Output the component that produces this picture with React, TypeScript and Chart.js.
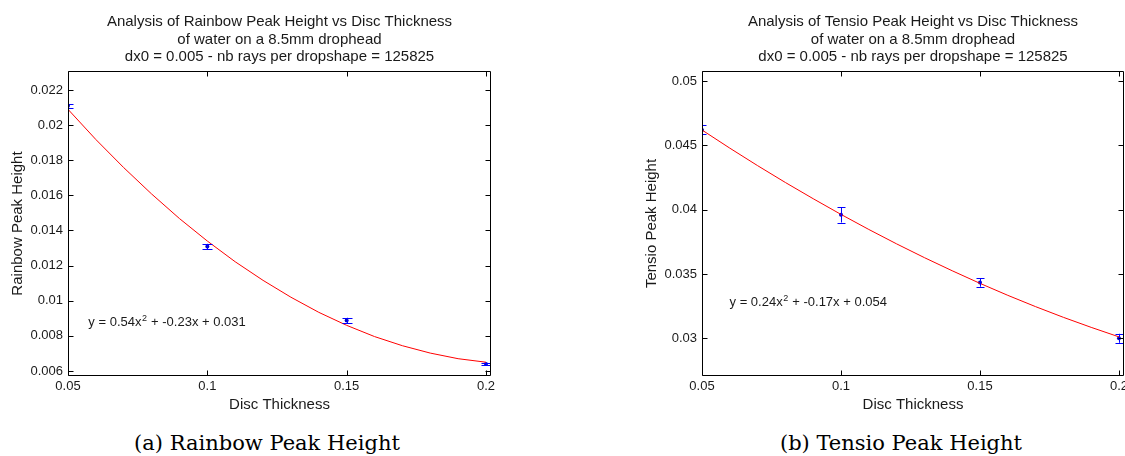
import React, { useEffect, useRef } from "react";
import { Chart, registerables } from "chart.js";

Chart.register(...registerables);

// ---------- data ----------
const discThickness = [0.05, 0.1, 0.15, 0.2];

const rainbowPeak = [0.0211, 0.01309, 0.00887, 0.0064];
const rainbowErr = [0.0001, 0.00015, 0.00016, 0.00006];

const tensioPeak = [0.0462, 0.0396, 0.03434, 0.03];
const tensioErr = [0.00035, 0.0006, 0.00033, 0.00035];

const fitThickness = [
  0.05, 0.06, 0.07, 0.08, 0.09, 0.1, 0.11, 0.12, 0.13, 0.14, 0.15, 0.16, 0.17,
  0.18, 0.19, 0.2,
];
const rainbowFit = [
  0.0209, 0.01918, 0.01758, 0.01608, 0.01468, 0.0134, 0.01222, 0.01116,
  0.0102, 0.00934, 0.0086, 0.00796, 0.00744, 0.00702, 0.0067, 0.0065,
];
const tensioFit = [
  0.04619, 0.04478, 0.04342, 0.04211, 0.04085, 0.03963, 0.03846, 0.03734,
  0.03627, 0.03525, 0.03427, 0.03334, 0.03246, 0.03163, 0.03085, 0.03011,
];

const xTickValues = [0.05, 0.1, 0.15, 0.2];
const rainbowYTicks = [0.006, 0.008, 0.01, 0.012, 0.014, 0.016, 0.018, 0.02, 0.022];
const tensioYTicks = [0.03, 0.035, 0.04, 0.045, 0.05];

const rainbowTitle = [
  "Analysis of Rainbow Peak Height vs Disc Thickness",
  "of water on a 8.5mm drophead",
  "dx0 = 0.005 - nb rays per dropshape = 125825",
];
const tensioTitle = [
  "Analysis of Tensio Peak Height vs Disc Thickness",
  "of water on a 8.5mm drophead",
  "dx0 = 0.005 - nb rays per dropshape = 125825",
];
const rainbowEquation = ["y = 0.54x", "2", " + -0.23x + 0.031"];
const tensioEquation = ["y = 0.24x", "2", " + -0.17x + 0.054"];

// ---------- styles ----------
const SANS = "'Liberation Sans', Arial, Helvetica, sans-serif";
const TEXT = "#1a1a1a";

const fmt = (v: number) => String(parseFloat(Number(v).toFixed(4)));

// ---------- plugins ----------
const boxPlugin = {
  id: "matlabBox",
  afterDraw(chart: any) {
    const { ctx, chartArea: a, scales } = chart;
    const L = Math.round(a.left) + 0.5;
    const R = Math.round(a.right) - 0.5;
    const T = Math.round(a.top) + 0.5;
    const B = Math.round(a.bottom) - 0.5;
    const tl = 5;
    ctx.save();
    ctx.strokeStyle = "#000";
    ctx.lineWidth = 1;
    ctx.beginPath();
    ctx.rect(L, T, R - L, B - T);
    scales.x.ticks.forEach((t: any) => {
      const px = Math.round(scales.x.getPixelForValue(t.value)) + 0.5;
      ctx.moveTo(px, B);
      ctx.lineTo(px, B - tl);
      ctx.moveTo(px, T);
      ctx.lineTo(px, T + tl);
    });
    scales.y.ticks.forEach((t: any) => {
      const py = Math.round(scales.y.getPixelForValue(t.value)) + 0.5;
      ctx.moveTo(L, py);
      ctx.lineTo(L + tl, py);
      ctx.moveTo(R, py);
      ctx.lineTo(R - tl, py);
    });
    ctx.stroke();
    ctx.restore();
  },
};

const errorBarPlugin = {
  id: "errorBars",
  afterDatasetsDraw(chart: any) {
    const { ctx, chartArea: a, scales } = chart;
    ctx.save();
    ctx.beginPath();
    ctx.rect(a.left, a.top, a.right - a.left, a.bottom - a.top);
    ctx.clip();
    chart.data.datasets.forEach((ds: any) => {
      if (!ds.errors) return;
      ctx.strokeStyle = "#0000ff";
      ctx.lineWidth = 1;
      ds.data.forEach((p: any, i: number) => {
        const e = ds.errors[i];
        const px = Math.round(scales.x.getPixelForValue(p.x)) + 0.5;
        const y1 = scales.y.getPixelForValue(p.y - e);
        const y2 = scales.y.getPixelForValue(p.y + e);
        const cap = ds.capHalf || 4;
        ctx.beginPath();
        ctx.moveTo(px, y1);
        ctx.lineTo(px, y2);
        ctx.moveTo(px - cap, Math.round(y1) + 0.5);
        ctx.lineTo(px + cap, Math.round(y1) + 0.5);
        ctx.moveTo(px - cap, Math.round(y2) + 0.5);
        ctx.lineTo(px + cap, Math.round(y2) + 0.5);
        ctx.stroke();
      });
    });
    ctx.restore();
  },
};

const textPlugin = {
  id: "matlabText",
  afterDraw(chart: any, _args: any, opts: any) {
    const { ctx, chartArea: a, scales } = chart;
    ctx.save();
    ctx.fillStyle = TEXT;
    ctx.font = `15px ${SANS}`;
    ctx.textAlign = "center";
    ctx.textBaseline = "alphabetic";
    const cx = (a.left + a.right) / 2;
    const baselines = [26, 43.5, 61];
    (opts.title || []).forEach((line: string, i: number) => {
      ctx.fillText(line, cx, baselines[i]);
    });
    if (opts.equation) {
      const [p1, sup, p2] = opts.equation;
      let x = scales.x.getPixelForValue(opts.eqX);
      const y = scales.y.getPixelForValue(opts.eqY) + 4.5;
      ctx.textAlign = "left";
      ctx.font = `13px ${SANS}`;
      ctx.fillText(p1, x, y);
      x += ctx.measureText(p1).width;
      ctx.font = `9px ${SANS}`;
      ctx.fillText(sup, x + 0.5, y - 5.5);
      x += ctx.measureText(sup).width + 1;
      ctx.font = `13px ${SANS}`;
      ctx.fillText(p2, x, y);
    }
    ctx.restore();
  },
};

// ---------- config builder ----------
function makeConfig(p: {
  values: number[];
  errors: number[];
  fit: number[];
  yMin: number;
  yMax: number;
  yTicks: number[];
  yTitle: string;
  title: string[];
  equation: string[];
  eqX: number;
  eqY: number;
  padLeft: number;
  padRight: number;
  capHalf: number;
}) {
  const tickFont = { family: SANS, size: 13 };
  const titleFont = { family: SANS, size: 15 };
  return {
    type: "scatter",
    data: {
      datasets: [
        {
          label: "fit",
          data: fitThickness.map((x, i) => ({ x, y: p.fit[i] })),
          showLine: true,
          borderColor: "#ff0000",
          borderWidth: 1,
          pointRadius: 0,
          fill: false,
          tension: 0,
        },
        {
          label: "data",
          data: discThickness.map((x, i) => ({ x, y: p.values[i] })),
          showLine: false,
          pointRadius: 2,
          pointBackgroundColor: "#0000cc",
          pointBorderWidth: 0,
          errors: p.errors,
          capHalf: p.capHalf,
        },
      ],
    },
    options: {
      animation: false,
      responsive: false,
      events: [],
      layout: { padding: { left: p.padLeft, top: 71, right: p.padRight, bottom: 0 } },
      plugins: {
        legend: { display: false },
        tooltip: { enabled: false },
        title: { display: false },
        matlabText: { title: p.title, equation: p.equation, eqX: p.eqX, eqY: p.eqY },
      },
      scales: {
        x: {
          type: "linear",
          min: 0.05,
          max: 0.2018,
          afterBuildTicks: (s: any) => {
            s.ticks = xTickValues.map((v) => ({ value: v }));
          },
          afterFit: (s: any) => {
            s.height = 44;
          },
          grid: { display: false, drawTicks: false },
          border: { display: false },
          ticks: {
            padding: 3,
            font: tickFont,
            color: TEXT,
            autoSkip: false,
            maxRotation: 0,
            callback: (v: any) => fmt(v),
          },
          title: {
            display: true,
            text: "Disc Thickness",
            font: titleFont,
            color: TEXT,
            padding: { top: 0, bottom: 6 },
          },
        },
        y: {
          type: "linear",
          min: p.yMin,
          max: p.yMax,
          afterBuildTicks: (s: any) => {
            s.ticks = p.yTicks.map((v) => ({ value: v }));
          },
          afterFit: (s: any) => {
            s.width = 68;
          },
          grid: { display: false, drawTicks: false },
          border: { display: false },
          ticks: {
            padding: 5,
            font: tickFont,
            color: TEXT,
            autoSkip: false,
            callback: (v: any) => fmt(v),
          },
          title: {
            display: true,
            text: p.yTitle,
            font: titleFont,
            color: TEXT,
            padding: { top: 9, bottom: 0 },
          },
        },
      },
    },
    plugins: [errorBarPlugin, boxPlugin, textPlugin],
  };
}

function ChartCanvas({ config, left, width }: { config: any; left: number; width: number }) {
  const ref = useRef<HTMLCanvasElement>(null);
  useEffect(() => {
    const chart = new Chart(ref.current as HTMLCanvasElement, config);
    return () => chart.destroy();
  }, []);
  return (
    <div style={{ position: "absolute", left, top: 0, width, height: 420 }}>
      <canvas ref={ref} width={width} height={420} style={{ display: "block" }} />
    </div>
  );
}

const captionStyle: React.CSSProperties = {
  position: "absolute",
  top: 430,
  width: 400,
  textAlign: "center",
  fontFamily: "'DejaVu Serif', serif",
  fontSize: 21,
  lineHeight: "26px",
  color: "#000",
  whiteSpace: "nowrap",
};

export default function App() {
  const rainbowConfig = makeConfig({
    values: rainbowPeak,
    errors: rainbowErr,
    fit: rainbowFit,
    yMin: 0.005715,
    yMax: 0.023082,
    yTicks: rainbowYTicks,
    yTitle: "Rainbow Peak Height",
    title: rainbowTitle,
    equation: rainbowEquation,
    eqX: 0.0573,
    eqY: 0.0088,
    padLeft: 0,
    padRight: 69,
    capHalf: 5,
  });
  const tensioConfig = makeConfig({
    values: tensioPeak,
    errors: tensioErr,
    fit: tensioFit,
    yMin: 0.02707,
    yMax: 0.050777,
    yTicks: tensioYTicks,
    yTitle: "Tensio Peak Height",
    title: tensioTitle,
    equation: tensioEquation,
    eqX: 0.0599,
    eqY: 0.03285,
    padLeft: 64,
    padRight: 46,
    capHalf: 4,
  });
  return (
    <div
      style={{
        position: "absolute",
        left: 0,
        top: 0,
        width: 1125,
        height: 456,
        overflow: "hidden",
        background: "#fff",
      }}
    >
      <ChartCanvas config={rainbowConfig} left={0} width={560} />
      <ChartCanvas config={tensioConfig} left={570} width={600} />
      <div style={{ ...captionStyle, left: 267 - 200 }}>(a) Rainbow Peak Height</div>
      <div style={{ ...captionStyle, left: 901 - 200 }}>(b) Tensio Peak Height</div>
    </div>
  );
}
